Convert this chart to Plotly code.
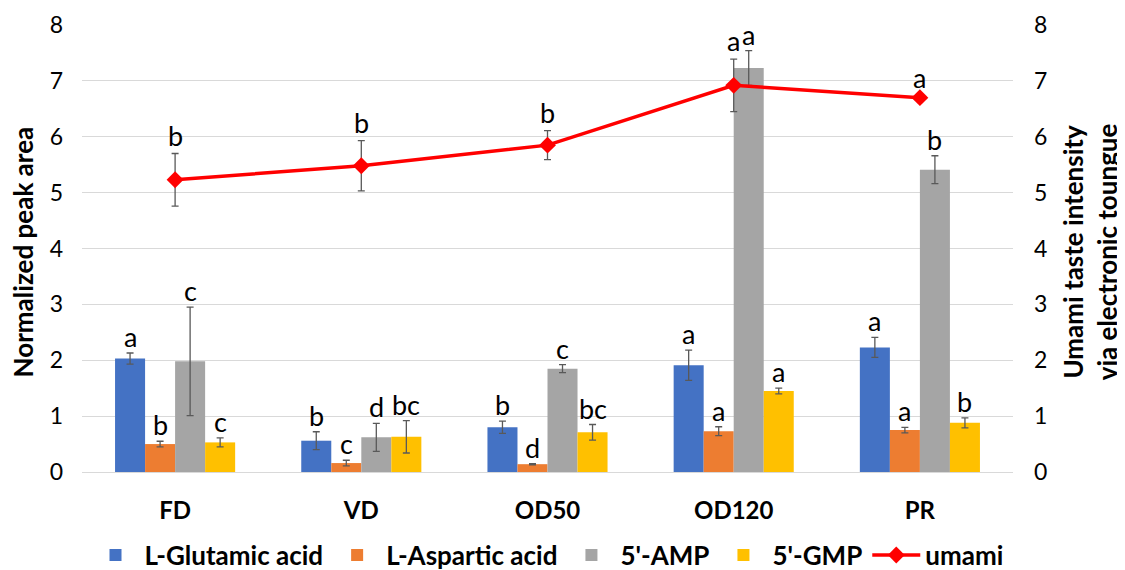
import plotly.graph_objects as go

categories = ["FD", "VD", "OD50", "OD120", "PR"]

glu = [2.03, 0.56, 0.80, 1.91, 2.23]
glu_err = [0.10, 0.16, 0.11, 0.27, 0.18]
glu_lbl = ["a", "b", "b", "a", "a"]

asp = [0.50, 0.16, 0.14, 0.73, 0.75]
asp_err = [0.05, 0.05, 0.01, 0.08, 0.05]
asp_lbl = ["b", "c", "d", "a", "a"]

amp = [1.98, 0.62, 1.85, 7.23, 5.41]
amp_err = [0.97, 0.25, 0.07, 0.31, 0.25]
amp_lbl = ["c", "d", "c", "a", "b"]

gmp = [0.53, 0.63, 0.71, 1.45, 0.88]
gmp_err = [0.08, 0.29, 0.14, 0.05, 0.09]
gmp_lbl = ["c", "bc", "bc", "a", "b"]

umami = [5.23, 5.48, 5.85, 6.92, 6.70]
umami_err = [0.47, 0.45, 0.26, 0.47, 0.03]
umami_lbl = ["b", "b", "b", "a", "a"]

FONT = "Lato"
ERR_COLOR = "#595959"
BARGAP = 0.355
LETTER_SIZE = 27
TITLE_SIZE = 26

series = [
    ("L-Glutamic acid", glu, glu_err, glu_lbl, "#4472C4"),
    ("L-Aspartic acid", asp, asp_err, asp_lbl, "#ED7D31"),
    ("5'-AMP", amp, amp_err, amp_lbl, "#A5A5A5"),
    ("5'-GMP", gmp, gmp_err, gmp_lbl, "#FFC000"),
]

fig = go.Figure()
for name, vals, errs, _, color in series:
    fig.add_trace(go.Bar(
        x=categories, y=vals, name=name, marker_color=color,
        marker_line_width=0,
        error_y=dict(type="data", array=errs, visible=True,
                     color=ERR_COLOR, thickness=1.3, width=3.5),
    ))

fig.add_trace(go.Scatter(
    x=categories, y=umami, name="umami", yaxis="y2",
    mode="lines+markers",
    line=dict(color="#FF0000", width=3.5),
    marker=dict(symbol="diamond", size=13, color="#FF0000"),
    error_y=dict(type="data", array=umami_err, visible=True,
                 color=ERR_COLOR, thickness=1.3, width=3.5),
))

annotations = []
n = len(series)
w = (1 - BARGAP) / n
for j, (name, vals, errs, lbls, color) in enumerate(series):
    for i in range(len(categories)):
        annotations.append(dict(
            x=i + (j - (n - 1) / 2) * w, y=vals[i] + errs[i], xref="x", yref="y",
            text=lbls[i], showarrow=False, yanchor="bottom", yshift=-2,
            font=dict(family=FONT, size=LETTER_SIZE, color="#000000"),
        ))
for i in range(len(categories)):
    annotations.append(dict(
        x=i, y=umami[i] + umami_err[i], xref="x", yref="y2",
        text=umami_lbl[i], showarrow=False, yanchor="bottom", yshift=0,
        font=dict(family=FONT, size=LETTER_SIZE, color="#000000"),
    ))

# axis titles
annotations.append(dict(
    x=-0.063, y=0.492, xref="paper", yref="paper", textangle=-90,
    text="<b>Normalized peak area</b>", showarrow=False,
    xanchor="center", yanchor="middle",
    font=dict(family=FONT, size=TITLE_SIZE, color="#000000"),
))
annotations.append(dict(
    x=1.083, y=0.492, xref="paper", yref="paper", textangle=-90,
    text="<b>Umami taste intensity<br>via electronic toungue</b>", showarrow=False,
    xanchor="center", yanchor="middle",
    font=dict(family=FONT, size=TITLE_SIZE, color="#000000"),
))

fig.update_layout(
    width=1125, height=562,
    margin=dict(l=74, r=120, t=17, b=98, autoexpand=False),
    paper_bgcolor="white", plot_bgcolor="white",
    barmode="group", bargap=BARGAP, bargroupgap=0,
    font=dict(family=FONT, size=22, color="#000000"),
    xaxis=dict(
        type="category", showgrid=False, showline=False, ticks="",
        tickfont=dict(family=FONT, size=24, color="#000000", weight="bold"),
        ticklabelstandoff=22, automargin=False,
    ),
    yaxis=dict(
        range=[0, 8], dtick=1, showgrid=True, gridcolor="#D9D9D9", gridwidth=1.3,
        zeroline=True, zerolinecolor="#D9D9D9", zerolinewidth=1.3,
        showline=False, ticks="", automargin=False,
        tickfont=dict(family=FONT, size=23, color="#000000"),
        ticklabelstandoff=18,
    ),
    yaxis2=dict(
        range=[0, 8], dtick=1, overlaying="y", side="right", showgrid=False,
        zeroline=False, showline=False, ticks="", automargin=False,
        tickfont=dict(family=FONT, size=23, color="#000000"),
        ticklabelstandoff=20,
    ),
    legend=dict(
        orientation="h", x=0.5, xanchor="center", y=-0.186, yanchor="middle",
        font=dict(family=FONT, size=26, color="#000000", weight="bold"),
        itemwidth=48, traceorder="normal",
    ),
    annotations=annotations,
)

fig.write_html("out.html")
